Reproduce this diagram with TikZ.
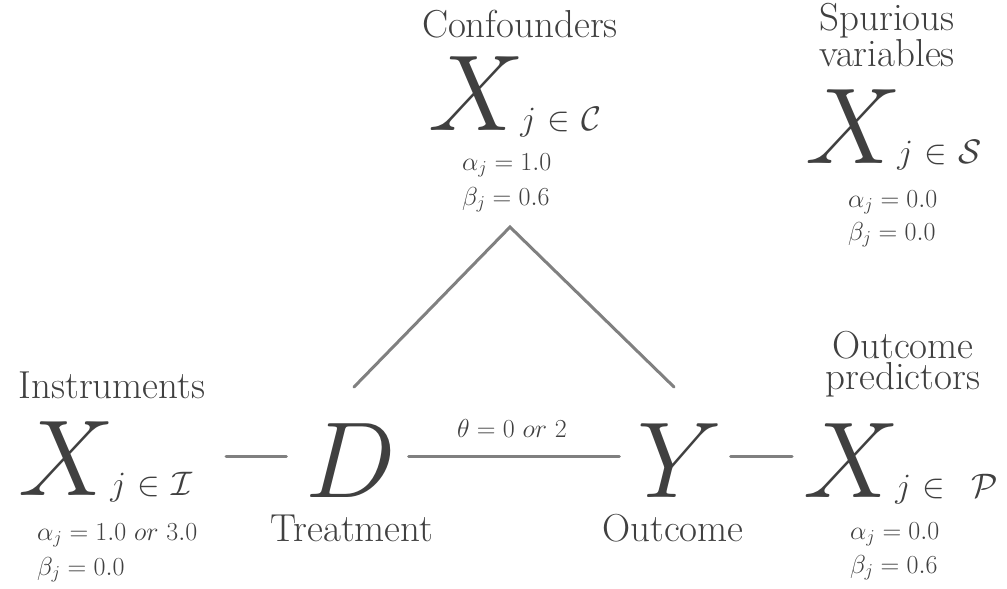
\RequirePackage{fix-cm}
\documentclass[tikz,border=0pt]{standalone}
\usepackage{amsmath}
\definecolor{txt}{HTML}{404040}
\definecolor{ln}{HTML}{808080}
\begin{document}
\begin{tikzpicture}[x=1pt,y=-1pt,
  lbl/.style={text=txt, font=\fontsize{39}{31}\selectfont, inner sep=0pt, anchor=base, align=center},
  eq/.style={text=txt, font=\fontsize{26}{26}\selectfont, inner sep=0pt, anchor=base west},
  big/.style={text=txt, font=\fontsize{108}{108}\selectfont, inner sep=0pt, anchor=base},
  conn/.style={draw=ln, line width=3pt, line cap=round}]
\useasboundingbox (0,0) rectangle (1007,589);

% Confounders
\node[lbl] (tC) at (520,37) {Confounders};
\node[big, anchor=base west] (XC) at (428,130)
  {$X$\kern-4pt\fontsize{34}{34}\selectfont$j\mkern6mu{\in}\mkern6mu\mathcal{C}$};
\node[eq] (aC) at (462,170) {$\alpha_j = 1.0$};
\node[eq] (bC) at (462,205) {$\beta_j = 0.6$};

% Spurious
\node[lbl] (tS) at (887,66) {Spurious\\variables};
\node[big, anchor=base west] (XS) at (805,163)
  {$X$\kern-4pt\fontsize{34}{34}\selectfont$j\mkern6mu{\in}\mkern6mu\mathcal{S}$};
\node[eq] (aS) at (848,207) {$\alpha_j = 0.0$};
\node[eq] (bS) at (848,240) {$\beta_j = 0.0$};

% Instruments
\node[lbl] (tI) at (112,398) {Instruments};
\node[big, anchor=base west] (XI) at (18,495)
  {$X$\kern-4pt\fontsize{34}{34}\selectfont$j\mkern6mu{\in}\mkern6mu\mathcal{I}$};
\node[eq] (aI) at (37,540) {$\alpha_j = 1.0\ or\ 3.0$};
\node[eq] (bI) at (37,575) {$\beta_j = 0.0$};

% Treatment
\node[big] (D) at (351,497) {$D$};
\node[lbl] (tD) at (352,541) {Treatment};

% Outcome
\node[big] (Y) at (680,497) {$Y$};
\node[lbl] (tY) at (673,541) {Outcome};

% theta
\node[eq, anchor=base] (th) at (512,437) {$\theta = 0\ or\ 2$};

% Outcome predictors
\node[lbl] (tP) at (903,389) {Outcome\\predictors};
\node[big, anchor=base west] (XP) at (803,497)
  {$X$\kern-4pt\fontsize{34}{34}\selectfont$j\mkern6mu{\in}\mkern14mu\mathcal{P}$};
\node[eq] (aP) at (850,539) {$\alpha_j = 0.0$};
\node[eq] (bP) at (850,573) {$\beta_j = 0.6$};

% connectors
\coordinate (apex) at (510,227);
\draw[conn] ([shift={(208pt,39pt)}]XI.base west) -- ([shift={(-19pt,41pt)}]D.base west);
\draw[conn] ([shift={(12pt,41pt)}]D.base east) -- ([shift={(-18pt,41pt)}]Y.base west);
\draw[conn] ([shift={(8pt,41pt)}]Y.base east) -- ([shift={(-11pt,41pt)}]XP.base west);
\draw[conn] ([shift={(3pt,36pt)}]D.north) -- (apex) -- ([shift={(-6pt,36pt)}]Y.north);
\end{tikzpicture}
\end{document}
